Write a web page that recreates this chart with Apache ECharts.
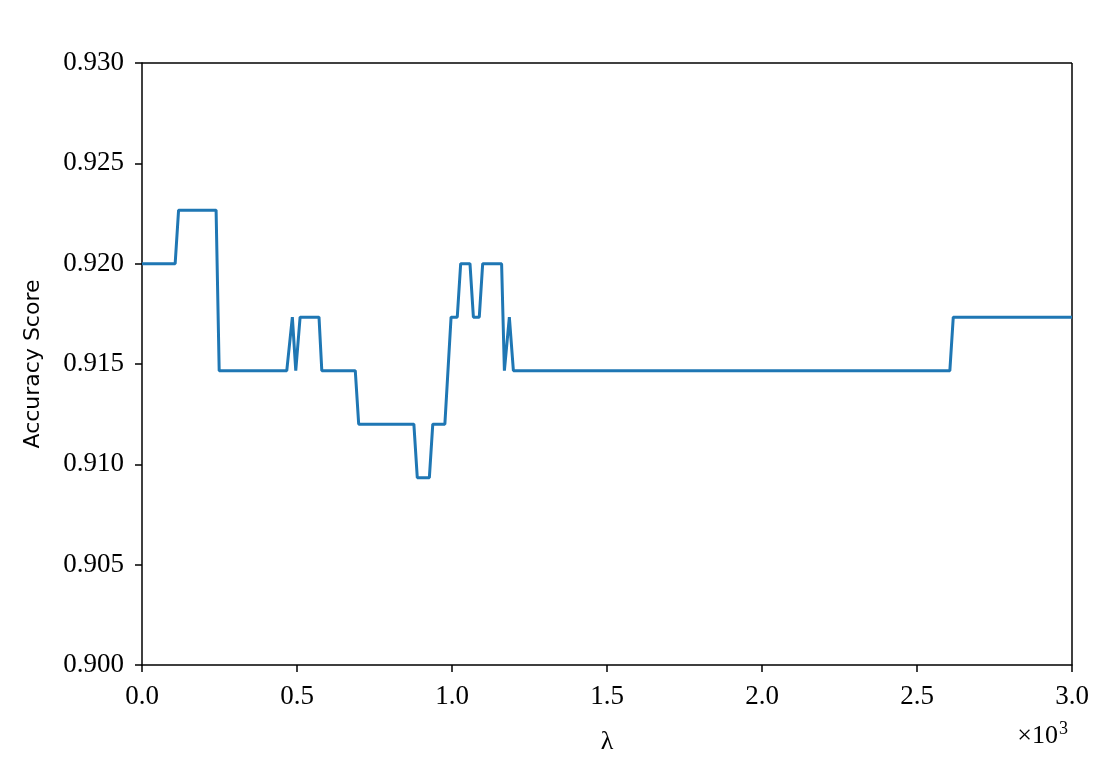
<!DOCTYPE html>
<html>
<head>
<meta charset="utf-8">
<script src="https://cdn.jsdelivr.net/npm/echarts@6/dist/echarts.min.js"></script>
<style>
  html, body { margin: 0; padding: 0; background: #fff; }
  #chart { width: 1109px; height: 773px; }
</style>
</head>
<body>
<div id="chart"></div>
<script>
const SERIF = 'Liberation Serif, DejaVu Serif, serif'
const SANS = 'DejaVu Sans, sans-serif'

// λ breakpoints and accuracy at each
const lambdaVals = [0, 107, 118, 239, 249, 467, 485, 496, 510, 571, 580, 688, 699, 877, 888, 927, 938, 977, 997, 1017, 1028, 1058, 1069, 1088, 1099, 1160, 1169, 1185, 1198, 2606, 2617, 3000]
const accuracyVals = [0.92, 0.92, 0.922667, 0.922667, 0.914667, 0.914667, 0.917333, 0.914667, 0.917333, 0.917333, 0.914667, 0.914667, 0.912, 0.912, 0.909333, 0.909333, 0.912, 0.912, 0.917333, 0.917333, 0.92, 0.92, 0.917333, 0.917333, 0.92, 0.92, 0.914667, 0.917333, 0.914667, 0.914667, 0.917333, 0.917333]

const yTicks = ['0.900', '0.905', '0.910', '0.915', '0.920', '0.925', '0.930']

const chart = echarts.init(document.getElementById('chart'))

const axisLine = { show: true, onZero: false, lineStyle: { color: '#000', width: 1.5 } }

chart.setOption({
  animation: false,
  grid: { left: 142, top: 63, right: 37, bottom: 108, containLabel: false },
  xAxis: {
    type: 'value',
    min: 0,
    max: 3000,
    interval: 500,
    name: 'λ',
    nameLocation: 'middle',
    nameGap: 64,
    nameTextStyle: { fontFamily: SERIF, fontSize: 26, color: '#000' },
    axisLine,
    axisTick: { show: true, length: 7, lineStyle: { color: '#000', width: 1.5 } },
    axisLabel: {
      margin: 18,
      fontFamily: SERIF,
      fontSize: 27,
      color: '#000',
      formatter: (v) => (v / 1000).toFixed(1),
    },
    splitLine: { show: false },
  },
  yAxis: {
    type: 'value',
    min: 0.9,
    max: 0.93,
    interval: 0.005,
    name: 'Accuracy Score',
    nameLocation: 'middle',
    nameGap: 98,
    nameRotate: 90,
    nameTextStyle: { fontFamily: SANS, fontSize: 22, color: '#000' },
    axisLine,
    axisTick: { show: true, length: 7, lineStyle: { color: '#000', width: 1.5 } },
    axisLabel: {
      margin: 18,
      fontFamily: SERIF,
      fontSize: 27,
      color: '#000',
      formatter: (v) => yTicks[Math.round((v - 0.9) / 0.005)] ?? v.toFixed(3),
    },
    splitLine: { show: false },
  },
  graphic: [
    // box top and right spines
    { type: 'line', shape: { x1: 142, y1: 63, x2: 1072, y2: 63 }, style: { stroke: '#000', lineWidth: 1.5 } },
    { type: 'line', shape: { x1: 1072, y1: 63, x2: 1072, y2: 665 }, style: { stroke: '#000', lineWidth: 1.5 } },
    {
      type: 'text',
      right: 41,
      top: 720,
      style: {
        text: '{a|×10}{b|3}',
        rich: {
          a: { fontFamily: SERIF, fontSize: 26, color: '#000' },
          b: { fontFamily: SERIF, fontSize: 18, color: '#000', padding: [0, 0, 14, 1] },
        },
      },
    },
  ],
  series: [
    {
      type: 'line',
      data: lambdaVals.map((x, i) => [x, accuracyVals[i]]),
      showSymbol: false,
      lineStyle: { color: '#1f77b4', width: 3 },
      clip: true,
    },
  ],
})
</script>
</body>
</html>
